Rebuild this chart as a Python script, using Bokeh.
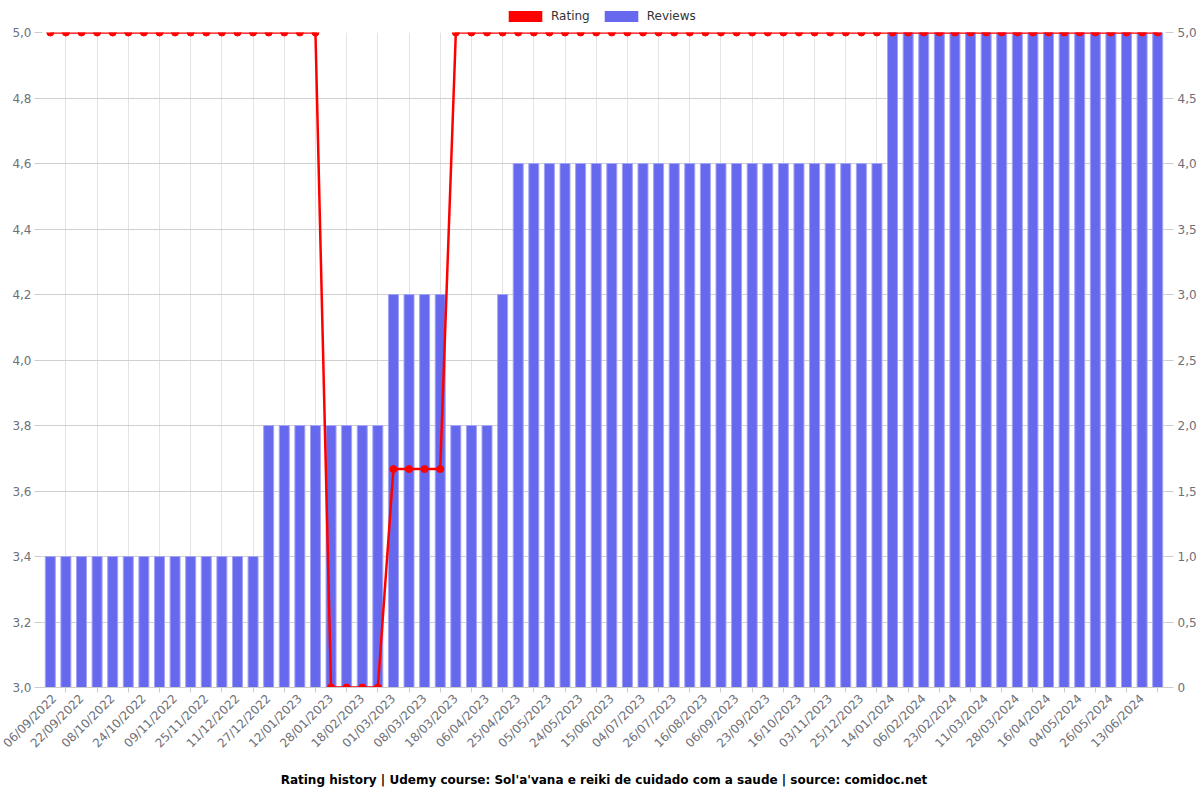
from bokeh.plotting import figure
from bokeh.models import (Range1d, LinearAxis, FixedTicker, CustomJSTickFormatter,
                          Legend, LegendItem, Title, ColumnDataSource)
from bokeh.layouts import column
from bokeh.embed import file_html
from bokeh.resources import INLINE
import math

tick_labels = ["06/09/2022", "22/09/2022", "08/10/2022", "24/10/2022", "09/11/2022",
               "25/11/2022", "11/12/2022", "27/12/2022", "12/01/2023", "28/01/2023",
               "18/02/2023", "01/03/2023", "08/03/2023", "18/03/2023", "06/04/2023",
               "25/04/2023", "05/05/2023", "24/05/2023", "15/06/2023", "04/07/2023",
               "26/07/2023", "16/08/2023", "06/09/2023", "23/09/2023", "16/10/2023",
               "03/11/2023", "25/12/2023", "14/01/2024", "06/02/2024", "23/02/2024",
               "11/03/2024", "28/03/2024", "16/04/2024", "04/05/2024", "26/05/2024",
               "13/06/2024"]

reviews = [1]*14 + [2]*8 + [3]*4 + [2]*3 + [3] + [4]*24 + [5]*18
rating = [5.0]*18 + [3.0]*4 + [3.667]*4 + [5.0]*46

n = len(reviews)
idx = list(range(n))

FONT = "DejaVu Sans"
LABEL_COLOR = "#6e7079"
RED = "#ff0000"
BLUE = "#6668ee"

p = figure(width=1200, height=776, output_backend="svg", toolbar_location=None,
           x_range=Range1d(-0.5, n - 0.5), y_range=Range1d(3.0, 5.0),
           min_border_left=42, min_border_right=35, min_border_top=8,
           min_border_bottom=113, outline_line_color=None)
p.extra_y_ranges = {"reviews": Range1d(0, 5)}

src = ColumnDataSource(dict(x=idx, reviews=reviews, rating=rating))

p.vbar(x="x", top="reviews", bottom=0, width=0.64, source=src, y_range_name="reviews",
       fill_color=BLUE, line_color="#a3a4f3", line_width=1)
p.line(x="x", y="rating", source=src, line_color=RED, line_width=2.5)
p.scatter(x="x", y="rating", source=src, size=7, fill_color=RED, line_color=RED)

# x axis
xa = p.xaxis[0]
xa.ticker = FixedTicker(ticks=list(range(0, n, 2)), minor_ticks=list(range(1, n, 2)))
xa.major_label_overrides = {i * 2: lab for i, lab in enumerate(tick_labels)}
xa.major_label_orientation = math.pi / 4
xa.major_tick_out = 0
xa.major_tick_in = 0
xa.minor_tick_out = 5
xa.minor_tick_in = 0
xa.minor_tick_line_color = "#cccccc"
xa.axis_line_color = "#cccccc"
xa.major_label_text_font = FONT
xa.major_label_text_font_size = "12px"
xa.major_label_text_color = LABEL_COLOR
xa.major_label_standoff = 4

p.xgrid.ticker = FixedTicker(ticks=list(range(1, n, 2)))
p.xgrid.grid_line_color = "#e3e3e3"

# left y axis
ya = p.yaxis[0]
ya.ticker = FixedTicker(ticks=[3.0 + 0.2 * i for i in range(11)])
ya.formatter = CustomJSTickFormatter(code="return tick.toFixed(1).replace('.', ',');")
ya.axis_line_color = None
ya.major_tick_out = 8
ya.major_tick_in = 0
ya.major_tick_line_color = "#cccccc"
ya.minor_tick_line_color = None
ya.major_label_text_font = FONT
ya.major_label_text_font_size = "12px"
ya.major_label_text_color = LABEL_COLOR
ya.major_label_standoff = 3
p.ygrid.grid_line_color = "#d0d0d0"

# right y axis
ra = LinearAxis(y_range_name="reviews")
ra.ticker = FixedTicker(ticks=[0.5 * i for i in range(11)])
ra.formatter = CustomJSTickFormatter(
    code="return tick === 0 ? '0' : tick.toFixed(1).replace('.', ',');")
ra.axis_line_color = None
ra.major_tick_out = 8
ra.major_tick_in = 0
ra.major_tick_line_color = "#cccccc"
ra.minor_tick_line_color = None
ra.major_label_text_font = FONT
ra.major_label_text_font_size = "12px"
ra.major_label_text_color = LABEL_COLOR
ra.major_label_standoff = 4
p.add_layout(ra, "right")

title = Title(text="Rating history | Udemy course: Sol'a'vana e reiki de cuidado com a saude | source: comidoc.net",
              align="center", text_font=FONT, text_font_size="12px",
              text_font_style="bold", text_color="#000000", standoff=25)
p.add_layout(title, "below")

# header strip holding the legend
h = figure(width=1200, height=24, output_backend="svg", toolbar_location=None,
           x_range=Range1d(0, 1), y_range=Range1d(0, 1),
           min_border_left=0, min_border_right=0, min_border_top=0, min_border_bottom=0,
           outline_line_color=None)
h.axis.visible = False
h.grid.visible = False
nan = float("nan")
swatch = ColumnDataSource(dict(l=[nan], r=[nan], t=[nan], b=[nan]))
r_rating = h.quad(left="l", right="r", top="t", bottom="b", source=swatch,
                  fill_color=RED, line_color=None)
r_reviews = h.quad(left="l", right="r", top="t", bottom="b", source=swatch,
                   fill_color=BLUE, line_color=None)
legend = Legend(items=[LegendItem(label="Rating", renderers=[r_rating]),
                       LegendItem(label="Reviews", renderers=[r_reviews])],
                orientation="horizontal", location=(462, 1),
                glyph_width=42, glyph_height=14, label_height=14,
                label_standoff=5, spacing=10, padding=0, margin=0,
                border_line_color=None, background_fill_alpha=0,
                label_text_font=FONT, label_text_font_size="12px",
                label_text_color="#333333")
h.add_layout(legend, "center")

layout = column(h, p, spacing=0)
open("out.html", "w").write(file_html(layout, INLINE))
